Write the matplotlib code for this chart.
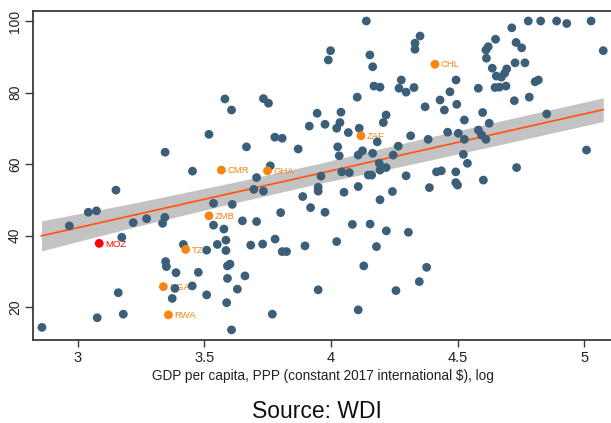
import matplotlib
matplotlib.use("Agg")
import matplotlib.pyplot as plt
import numpy as np

# ---- data ----
gdp_log = [2.859, 2.967, 3.042, 3.074, 3.151, 3.174, 3.160, 3.077, 3.180, 3.219,
           3.272, 3.335, 3.344, 3.345, 3.453, 3.518, 3.581, 3.607, 3.666, 3.733,
           3.753, 3.760, 3.706, 3.695, 3.733, 3.778, 3.807, 3.870, 3.914, 3.945,
           3.888, 3.536, 3.610, 3.536, 3.577, 3.650, 3.706, 3.801, 3.919, 3.949,
           3.949, 3.417, 3.509, 3.551, 3.585, 3.585, 3.683, 3.730, 3.779, 3.807,
           3.824, 3.897, 3.347, 3.350, 3.388, 3.476, 3.601, 3.591, 3.591, 3.660,
           3.630, 3.384, 3.452, 3.373, 3.509, 3.588, 3.607, 3.768, 3.949,
           4.139, 4.778, 4.827, 4.890, 4.930, 5.026, 5.074, 4.713, 4.351, 4.331,
           4.331, 3.998, 3.989, 4.153, 4.164, 4.649, 4.620, 4.611, 4.730, 4.752,
           4.613, 4.726, 4.765, 4.636, 4.693, 4.652, 4.672, 4.685, 4.277, 4.268,
           4.296, 4.327, 4.169, 4.193, 4.493, 4.469, 4.581, 4.647, 4.664, 4.690,
           4.805, 4.818, 4.782, 4.723, 4.103, 4.430, 4.447, 4.496, 4.371, 4.598,
           4.851, 4.526, 4.624, 4.039, 4.035, 4.022, 3.976, 4.217, 4.206, 4.068,
           4.111, 4.182, 4.314, 4.383, 4.460, 4.502, 4.526, 4.581, 4.594, 4.611,
           4.026, 4.032, 4.107, 4.124, 4.164, 4.245, 4.265, 4.190, 4.193, 4.217,
           4.042, 4.072, 3.960, 4.051, 4.107, 4.147, 4.160, 4.242, 4.296, 4.388,
           4.416, 4.435, 4.492, 4.492, 4.499, 4.522, 4.538, 4.601, 4.732, 5.008,
           4.193, 3.976, 4.084, 4.154, 4.218, 4.305, 4.022, 4.179, 4.129, 4.377,
           4.348, 4.256, 4.107]
indicator = [14.3, 42.7, 46.5, 46.9, 52.7, 39.5, 24.0, 17.0, 18.0, 43.6,
             44.7, 43.4, 45.1, 63.3, 58.0, 68.3, 78.2, 75.1, 64.8, 78.3,
             77.0, 59.5, 56.2, 52.9, 52.4, 67.5, 67.2, 64.2, 70.6, 74.2,
             50.9, 49.0, 48.7, 42.9, 41.8, 44.1, 43.9, 46.4, 47.8, 53.5,
             52.4, 37.5, 35.9, 37.5, 38.7, 35.8, 37.3, 37.6, 39.0, 35.5,
             35.5, 37.1, 32.7, 31.3, 29.6, 29.7, 32.0, 31.5, 28.0, 28.7,
             25.0, 25.2, 25.9, 22.4, 23.4, 21.2, 13.6, 18.0, 24.8,
             100.0, 100.0, 100.0, 100.0, 99.3, 100.0, 91.7, 98.1, 95.8, 93.8,
             92.1, 91.7, 89.1, 90.5, 87.2, 94.9, 92.8, 91.9, 94.0, 92.5,
             89.6, 88.3, 88.3, 86.8, 86.6, 84.6, 84.3, 85.4, 83.5, 81.2,
             80.1, 81.4, 81.8, 81.5, 83.5, 80.2, 81.2, 81.4, 81.5, 81.8,
             83.0, 83.5, 78.7, 77.7, 78.7, 77.9, 75.1, 76.7, 76.0, 74.4,
             74.0, 72.3, 71.4, 74.5, 71.6, 70.0, 71.1, 73.7, 71.6, 68.8,
             70.0, 66.2, 67.9, 66.9, 68.9, 68.6, 66.9, 69.5, 68.1, 66.9,
             64.8, 62.3, 62.5, 63.7, 63.0, 62.5, 65.0, 60.2, 58.3, 59.0,
             57.8, 57.6, 56.6, 52.1, 53.7, 56.9, 56.9, 52.3, 56.7, 53.4,
             57.8, 58.1, 57.8, 54.8, 54.1, 62.7, 60.2, 55.5, 59.0, 63.9,
             50.0, 46.5, 43.1, 43.2, 41.3, 40.9, 38.3, 36.9, 31.5, 31.1,
             27.1, 24.6, 19.2]

hl_codes = ["CHL", "ZAF", "CMR", "GHA", "ZMB", "TZA", "UGA", "RWA"]
hl_x = [4.410, 4.118, 3.567, 3.749, 3.518, 3.426, 3.338, 3.358]
hl_y = [87.9, 67.9, 58.3, 58.1, 45.5, 36.1, 25.7, 17.8]

focus_code = ["MOZ"]
focus_x = [3.085]
focus_y = [37.8]

fit_x = [2.857, 5.074]
fit_y = [39.9, 75.2]
band_x = [2.857, 3.2, 3.6, 3.95, 4.31, 4.7, 5.074]
band_half = [4.2, 3.4, 2.9, 2.8, 3.2, 3.3, 3.3]

xticks = [3, 3.5, 4, 4.5, 5]
xtick_labels = ["3", "3.5", "4", "4.5", "5"]
yticks = [20, 40, 60, 80, 100]

# ---- style ----
W, H = 611, 423
fig = plt.figure(figsize=(W / 100, H / 100), dpi=100)
ax = fig.add_axes([33 / W, 1 - 340 / H, (611 - 33) / W, (340 - 11) / H])

BLUE = "#3b5f78"
ORANGE = "#f98510"
LINE = "#ff5a1a"
RED = "#ff0000"
SPINE = "#3a3a3a"
FONT = ["Liberation Sans", "DejaVu Sans"]

bx = np.array(band_x)
line_at_band = np.interp(bx, fit_x, fit_y)
ax.fill_between(bx, line_at_band - np.array(band_half), line_at_band + np.array(band_half),
                color="#c3c3c3", lw=0, zorder=1)
ax.plot(fit_x, fit_y, color=LINE, lw=1.3, zorder=2)

for c, x, y in zip(hl_codes, hl_x, hl_y):
    ax.annotate(c, (x, y), xytext=(4.2, -0.5), textcoords="offset points",
                fontsize=6.8, color=ORANGE, va="center", ha="left",
                family=FONT, zorder=3)
for c, x, y in zip(focus_code, focus_x, focus_y):
    ax.annotate(c, (x, y), xytext=(4.2, -0.5), textcoords="offset points",
                fontsize=6.8, color=RED, va="center", ha="left",
                family=FONT, zorder=3)

ax.scatter(gdp_log, indicator, s=40, color=BLUE, edgecolors="none", zorder=4)
ax.scatter(hl_x, hl_y, s=40, color=ORANGE, edgecolors="none", zorder=5)
ax.scatter(focus_x, focus_y, s=40, color=RED, edgecolors="none", zorder=5)

ax.set_xlim(2.8236, 5.1046)
ax.set_ylim(10.77, 102.8)

ax.set_xticks(xticks)
ax.set_xticklabels(xtick_labels)
ax.set_yticks(yticks)
ax.set_yticklabels([str(v) for v in yticks], rotation=90, va="center")

for lab in ax.get_xticklabels():
    lab.set_family(FONT)
for lab in ax.get_yticklabels():
    lab.set_family(FONT)

ax.tick_params(axis="x", length=5, width=1, color=SPINE, labelsize=10.5,
               labelcolor="#222222", pad=3)
ax.tick_params(axis="y", length=6, width=1, color=SPINE, labelsize=10,
               labelcolor="#222222", pad=2)

for side in ["left", "top", "bottom"]:
    ax.spines[side].set_color(SPINE)
    ax.spines[side].set_linewidth(1.3)
ax.spines["right"].set_visible(False)

fig.text(323 / W, 1 - 379.5 / H, "GDP per capita, PPP (constant 2017 international $), log",
         ha="center", va="baseline", fontsize=9.8, color="#222222", family=FONT)
fig.text(316.5 / W, 1 - 418 / H, "Source: WDI", ha="center", va="baseline",
         fontsize=16.5, color="#111111", family=FONT)

fig.savefig("out.png", dpi=100)
